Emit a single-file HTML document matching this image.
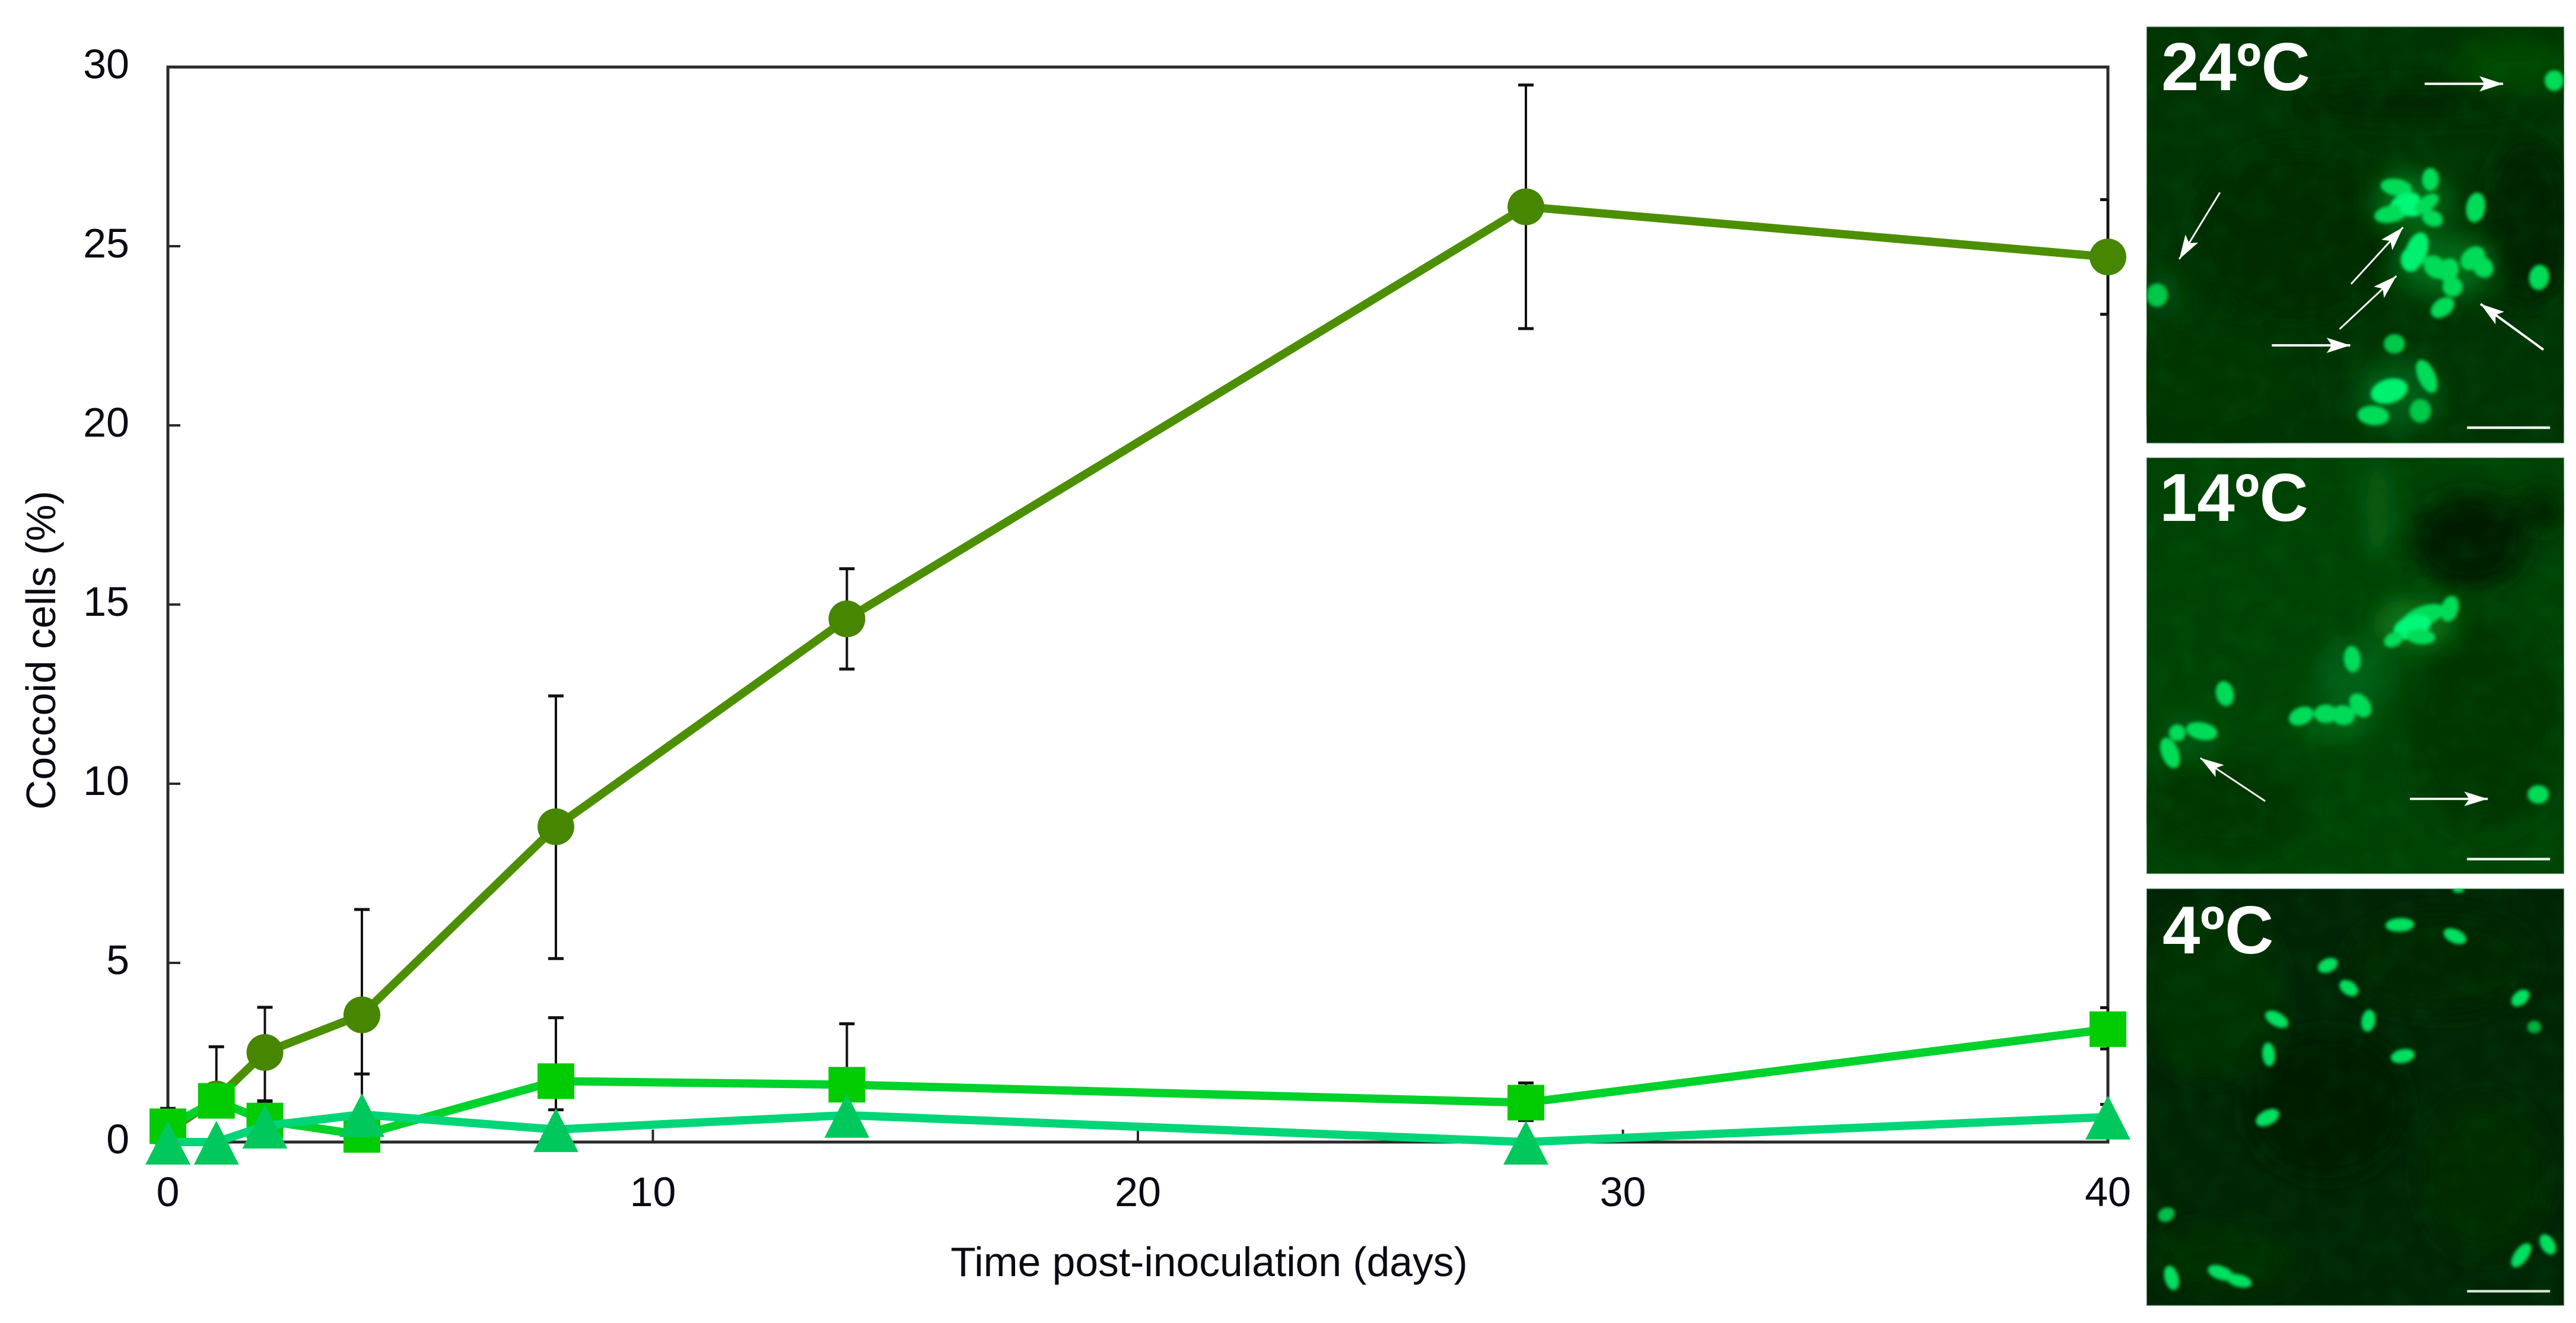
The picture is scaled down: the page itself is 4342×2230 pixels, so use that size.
<!DOCTYPE html>
<html lang="en">
<head>
<meta charset="utf-8">
<title>Coccoid cells over time</title>
<style>
html,body{margin:0;padding:0;background:#fff;}
svg{display:block;}
text{font-family:"Liberation Sans",sans-serif;}
</style>
</head>
<body>
<svg id="figure" xmlns="http://www.w3.org/2000/svg" width="4342" height="2230" viewBox="0 0 4342 2230">
<defs>
  <filter id="soft" x="-20%" y="-20%" width="140%" height="140%"><feGaussianBlur stdDeviation="6"/></filter>
  <filter id="glow" x="-30%" y="-30%" width="160%" height="160%"><feGaussianBlur stdDeviation="42"/></filter>
  <filter id="mottle" x="0" y="0" width="100%" height="100%">
    <feTurbulence type="fractalNoise" baseFrequency="0.012" numOctaves="2" seed="4"/>
    <feColorMatrix type="matrix" values="0 0 0 0 0  0 0 0 0 0.3  0 0 0 0 0.03  1.6 0 0 0 -0.62"/>
  </filter>
  <marker id="arrowhead" markerUnits="userSpaceOnUse" markerWidth="90" markerHeight="60" refX="82" refY="30" orient="auto">
    <path d="M82,30 L0,4 L18,30 L0,56 Z" fill="#fff"/>
  </marker>
  <clipPath id="clip-a"><rect x="78" y="90" width="1449" height="1412"/></clipPath>
  <clipPath id="clip-b"><rect x="78" y="45" width="1449" height="1487"/></clipPath>
  <clipPath id="clip-c"><rect x="78" y="37" width="1449" height="1471"/></clipPath>
</defs>

<g id="chart"></g>

<!-- 24 C micrograph -->
<g transform="translate(3580,0) scale(0.486,0.4975)">
  <g clip-path="url(#clip-a)">
    <rect x="78" y="90" width="1449" height="1412" fill="#003303" stroke="#6f9f8a" stroke-width="4"/>
    <g filter="url(#glow)">
      <ellipse cx="1400" cy="750" rx="150" ry="280" fill="#002002"/>
      <ellipse cx="600" cy="800" rx="350" ry="300" fill="#002a02"/>
      <ellipse cx="1000" cy="350" rx="420" ry="60" fill="#002802"/>
      <ellipse cx="1350" cy="220" rx="200" ry="90" fill="#004806"/>
      <ellipse cx="1000" cy="680" rx="130" ry="100" fill="#066c16"/>
      <ellipse cx="1110" cy="900" rx="170" ry="110" fill="#066816"/>
      <ellipse cx="950" cy="1340" rx="150" ry="120" fill="#055c12"/>
      <ellipse cx="130" cy="1000" rx="70" ry="80" fill="#044e0e"/>
      <ellipse cx="300" cy="1300" rx="300" ry="200" fill="#003604"/>
    </g>
    <rect x="78" y="90" width="1449" height="1412" filter="url(#mottle)" opacity="0.15"/>
    <g filter="url(#soft)" fill="#00dc58" stroke="#00dc58" stroke-width="10">
      <ellipse cx="1063" cy="608" rx="24" ry="34"/>
      <ellipse cx="1220" cy="703" rx="28" ry="46" transform="rotate(10 1220 703)"/>
      <ellipse cx="1440" cy="940" rx="30" ry="38" transform="rotate(10 1440 940)"/>
      <ellipse cx="1492" cy="273" rx="28" ry="30"/>
      <ellipse cx="115" cy="1000" rx="32" ry="35" fill="#00c848" stroke="#00c848"/>
      <ellipse cx="938" cy="1165" rx="32" ry="28" fill="#00c848" stroke="#00c848"/>
      <ellipse cx="1050" cy="1275" rx="25" ry="55" transform="rotate(-25 1050 1275)"/>
      <ellipse cx="1105" cy="1042" rx="40" ry="25" transform="rotate(-35 1105 1042)"/>
      <ellipse cx="1140" cy="972" rx="30" ry="28"/>
      <ellipse cx="865" cy="1408" rx="50" ry="28" transform="rotate(5 865 1408)"/>
      <ellipse cx="1028" cy="1392" rx="32" ry="35" fill="#00c848" stroke="#00c848"/>
      <ellipse cx="920" cy="1325" rx="60" ry="36" transform="rotate(-15 920 1325)" fill="#00f070" stroke="#00f070"/>
      <ellipse cx="945" cy="635" rx="50" ry="24" transform="rotate(10 945 635)"/>
      <ellipse cx="975" cy="685" rx="48" ry="24" transform="rotate(-20 975 685)" fill="#00f878" stroke="#00f878"/>
      <ellipse cx="925" cy="725" rx="52" ry="24" transform="rotate(-10 925 725)"/>
      <ellipse cx="1000" cy="705" rx="38" ry="24" fill="#00f878" stroke="#00f878"/>
      <ellipse cx="1050" cy="690" rx="42" ry="20" transform="rotate(-35 1050 690)"/>
      <ellipse cx="1070" cy="740" rx="32" ry="22" transform="rotate(20 1070 740)"/>
      <ellipse cx="1015" cy="850" rx="32" ry="60" transform="rotate(20 1015 850)" fill="#00f070" stroke="#00f070"/>
      <ellipse cx="995" cy="880" rx="30" ry="36" fill="#00f070" stroke="#00f070"/>
      <ellipse cx="1080" cy="905" rx="40" ry="30" transform="rotate(40 1080 905)"/>
      <ellipse cx="1125" cy="915" rx="30" ry="36" transform="rotate(30 1125 915)"/>
      <ellipse cx="1210" cy="875" rx="42" ry="30" transform="rotate(-40 1210 875)"/>
      <ellipse cx="1245" cy="905" rx="34" ry="28" transform="rotate(45 1245 905)"/>
    </g>
    <g stroke="#fff" stroke-width="8">
      <line x1="1043" y1="284" x2="1315" y2="284" marker-end="url(#arrowhead)"/>
      <line x1="333" y1="652" x2="192" y2="878" stroke-width="6" marker-end="url(#arrowhead)"/>
      <line x1="788" y1="962" x2="968" y2="770" stroke-width="6" marker-end="url(#arrowhead)"/>
      <line x1="748" y1="1115" x2="945" y2="935" stroke-width="6" marker-end="url(#arrowhead)"/>
      <line x1="513" y1="1170" x2="785" y2="1170" marker-end="url(#arrowhead)"/>
      <line x1="1455" y1="1185" x2="1237" y2="1030" marker-end="url(#arrowhead)"/>
    </g>
    <line x1="1190" y1="1449" x2="1478" y2="1449" stroke="#eef6ee" stroke-width="9"/>
  </g>
</g>
<text x="3643" y="152" font-size="114" font-weight="bold" fill="#fff">24ºC</text>

<!-- 14 C micrograph -->
<g transform="translate(3580,750) scale(0.486,0.472)">
  <g clip-path="url(#clip-b)">
    <rect x="78" y="45" width="1449" height="1487" fill="#004205" stroke="#6f9f8a" stroke-width="4"/>
    <g filter="url(#glow)">
      <ellipse cx="1200" cy="340" rx="200" ry="170" fill="#001c00"/>
      <ellipse cx="1450" cy="230" rx="80" ry="70" fill="#002400"/>
      <ellipse cx="1250" cy="1000" rx="260" ry="380" fill="#003604"/>
      <ellipse cx="350" cy="1300" rx="280" ry="170" fill="#003404"/>
      <ellipse cx="880" cy="230" rx="40" ry="190" fill="#0a6212"/>
      <ellipse cx="1000" cy="640" rx="140" ry="90" fill="#087218"/>
      <ellipse cx="800" cy="830" rx="130" ry="130" fill="#065e16"/>
      <ellipse cx="730" cy="1000" rx="130" ry="50" fill="#066816"/>
      <ellipse cx="230" cy="1040" rx="100" ry="90" fill="#05540e"/>
    </g>
    <rect x="78" y="45" width="1449" height="1487" filter="url(#mottle)" opacity="0.15"/>
    <g filter="url(#soft)" fill="#00dc58" stroke="#00dc58" stroke-width="10">
      <ellipse cx="350" cy="888" rx="26" ry="40" transform="rotate(-12 350 888)"/>
      <ellipse cx="792" cy="765" rx="24" ry="42" transform="rotate(-5 792 765)"/>
      <ellipse cx="270" cy="1022" rx="50" ry="26" transform="rotate(12 270 1022)"/>
      <ellipse cx="185" cy="1028" rx="24" ry="25"/>
      <ellipse cx="160" cy="1100" rx="25" ry="52" transform="rotate(-20 160 1100)"/>
      <ellipse cx="615" cy="968" rx="40" ry="26" transform="rotate(-25 615 968)"/>
      <ellipse cx="700" cy="960" rx="36" ry="28"/>
      <ellipse cx="760" cy="965" rx="36" ry="30" transform="rotate(10 760 965)"/>
      <ellipse cx="820" cy="930" rx="28" ry="42" transform="rotate(-35 820 930)"/>
      <ellipse cx="1130" cy="585" rx="25" ry="42" transform="rotate(15 1130 585)"/>
      <ellipse cx="1040" cy="610" rx="70" ry="30" transform="rotate(-20 1040 610)"/>
      <ellipse cx="1000" cy="650" rx="62" ry="36" transform="rotate(-20 1000 650)" fill="#00f878" stroke="#00f878"/>
      <ellipse cx="1030" cy="685" rx="45" ry="22" transform="rotate(5 1030 685)"/>
      <ellipse cx="935" cy="695" rx="30" ry="20" transform="rotate(-30 935 695)"/>
      <ellipse cx="1437" cy="1248" rx="32" ry="28"/>
    </g>
    <g stroke="#fff" stroke-width="8">
      <line x1="490" y1="1272" x2="265" y2="1118" stroke-width="6" marker-end="url(#arrowhead)"/>
      <line x1="992" y1="1264" x2="1262" y2="1264" marker-end="url(#arrowhead)"/>
    </g>
    <line x1="1190" y1="1479" x2="1478" y2="1479" stroke="#eef6ee" stroke-width="9"/>
  </g>
</g>
<text x="3640" y="878" font-size="114" font-weight="bold" fill="#fff">14ºC</text>

<!-- 4 C micrograph -->
<g transform="translate(3580,1480) scale(0.486,0.478)">
  <g clip-path="url(#clip-c)">
    <rect x="78" y="37" width="1449" height="1471" fill="#002505" stroke="#6f9f8a" stroke-width="4"/>
    <g filter="url(#glow)">
      <ellipse cx="300" cy="400" rx="240" ry="300" fill="#003206"/>
      <ellipse cx="1100" cy="300" rx="320" ry="180" fill="#002805"/>
      <ellipse cx="700" cy="800" rx="280" ry="260" fill="#001e04"/>
      <ellipse cx="1250" cy="1050" rx="220" ry="280" fill="#002c05"/>
      <ellipse cx="350" cy="1350" rx="260" ry="120" fill="#002e06"/>
    </g>
    <rect x="78" y="37" width="1449" height="1471" filter="url(#mottle)" opacity="0.12"/>
    <g filter="url(#soft)" fill="#00e060" stroke="#00e060" stroke-width="8">
      <ellipse cx="957" cy="165" rx="46" ry="20" transform="rotate(-3 957 165)"/>
      <ellipse cx="1148" cy="205" rx="38" ry="20" transform="rotate(25 1148 205)"/>
      <ellipse cx="707" cy="308" rx="32" ry="20" transform="rotate(-25 707 308)"/>
      <ellipse cx="780" cy="388" rx="32" ry="20" transform="rotate(35 780 388)"/>
      <ellipse cx="530" cy="498" rx="40" ry="20" transform="rotate(30 530 498)"/>
      <ellipse cx="848" cy="503" rx="20" ry="35" transform="rotate(8 848 503)"/>
      <ellipse cx="1375" cy="423" rx="32" ry="20" transform="rotate(-40 1375 423)"/>
      <ellipse cx="1423" cy="525" rx="20" ry="18" fill="#00b040" stroke="#00b040"/>
      <ellipse cx="502" cy="622" rx="18" ry="38" transform="rotate(-5 502 622)"/>
      <ellipse cx="967" cy="628" rx="38" ry="20" transform="rotate(-12 967 628)"/>
      <ellipse cx="498" cy="845" rx="40" ry="22" transform="rotate(-28 498 845)"/>
      <ellipse cx="147" cy="1187" rx="26" ry="20" transform="rotate(-30 147 1187)" fill="#00c048" stroke="#00c048"/>
      <ellipse cx="165" cy="1410" rx="20" ry="40" transform="rotate(-15 165 1410)"/>
      <ellipse cx="335" cy="1392" rx="42" ry="20" transform="rotate(20 335 1392)"/>
      <ellipse cx="400" cy="1420" rx="40" ry="18" transform="rotate(15 400 1420)"/>
      <ellipse cx="1378" cy="1330" rx="20" ry="45" transform="rotate(35 1378 1330)"/>
      <ellipse cx="1470" cy="1292" rx="20" ry="35" transform="rotate(-30 1470 1292)"/>
      <ellipse cx="1160" cy="40" rx="16" ry="8"/>
    </g>
    <line x1="1190" y1="1457" x2="1478" y2="1457" stroke="#d8e8d8" stroke-width="9"/>
  </g>
</g>
<text x="3645" y="1607" font-size="114" font-weight="bold" fill="#fff">4ºC</text>
</svg>

<script>
const days = [0, 1, 2, 4, 8, 14, 28, 40];
const xTickLabels = [0, 10, 20, 30, 40];
const yTickLabels = [0, 5, 10, 15, 20, 25, 30];

const temp24Values = [0.3, 1.2, 2.5, 3.55, 8.8, 14.6, 26.1, 24.7];
const temp24Upper = [0.94, 2.66, 3.76, 6.49, 12.45, 16.0, 29.5, 26.3];
const temp24Lower = [null, null, 1.15, 0.6, 5.12, 13.2, 22.7, 23.1];

const temp14Values = [0.44, 1.15, 0.6, 0.2, 1.7, 1.6, 1.1, 3.15];
const temp14Upper = [null, null, 1.1, 1.9, 3.47, 3.3, 1.65, 3.75];
const temp14Lower = [null, null, null, null, 0.9, null, 0.6, 2.6];

const temp4Values = [0, 0, 0.45, 0.77, 0.35, 0.75, 0, 0.7];
const temp4Upper = [null, null, null, null, null, null, null, 1.05];
const temp4Lower = [null, null, null, null, null, null, null, 0.35];

const xDomainMax = 40;
const yDomainMax = 30;

const plotLeft = 283;
const plotRight = 3553;
const plotTop = 113;
const plotBottom = 1925;

function xScale(day) {
  return plotLeft + (day / xDomainMax) * (plotRight - plotLeft);
}
function yScale(value) {
  return plotBottom - (value / yDomainMax) * (plotBottom - plotTop);
}

const NS = 'http://www.w3.org/2000/svg';
const chart = document.getElementById('chart');

function make(tag, attrs, parent) {
  const node = document.createElementNS(NS, tag);
  Object.keys(attrs).forEach(function (k) { node.setAttribute(k, attrs[k]); });
  (parent || chart).appendChild(node);
  return node;
}

const frame = make('rect', {
  x: plotLeft, y: plotTop, width: plotRight - plotLeft, height: plotBottom - plotTop,
  fill: 'none', stroke: '#2a2a2a', 'stroke-width': 5
});



yTickLabels.forEach(function (v) {
  if (v !== 0 && v !== yDomainMax) {
    const tick = make('line', { x1: plotLeft, x2: plotLeft + 21, y1: yScale(v), y2: yScale(v), stroke: '#2a2a2a', 'stroke-width': 4 });
    
    
  }
  const label = make('text', { x: 218, y: yScale(v) + 19, 'font-size': 70, 'text-anchor': 'end', fill: '#0a0a14' });
  label.textContent = v;
  
  
});

xTickLabels.forEach(function (v) {
  if (v !== 0 && v !== xDomainMax) {
    const tick = make('line', { x1: xScale(v), x2: xScale(v), y1: plotBottom, y2: plotBottom - 21, stroke: '#2a2a2a', 'stroke-width': 4 });
    
    
  }
  const label = make('text', { x: xScale(v), y: 2033, 'font-size': 70, 'text-anchor': 'middle', fill: '#0a0a14' });
  label.textContent = v;
  
  
});

const xTitle = make('text', { x: 2038, y: 2151, 'font-size': 69.6, 'text-anchor': 'middle', fill: '#0a0a14' });
xTitle.textContent = 'Time post-inoculation (days)';



const yTitle = make('text', { x: 0, y: 0, 'font-size': 69.6, 'text-anchor': 'middle', fill: '#0a0a14', transform: 'translate(93,1096) rotate(-90)' });
yTitle.textContent = 'Coccoid cells (%)';



function drawErrorBars(values, upper, lower, name) {
  const capHalf = 13;
  days.forEach(function (d, i) {
    const x = xScale(d);
    const hi = upper[i];
    const lo = lower[i];
    if (hi === null && lo === null) { return; }
    const top = hi === null ? yScale(values[i]) : yScale(hi);
    const bottom = lo === null ? yScale(values[i]) : yScale(lo);
    const stem = make('line', { x1: x, x2: x, y1: top, y2: bottom, stroke: '#111', 'stroke-width': 4 });
    
    
    const capEnds = [];
    if (hi !== null) { capEnds.push(top); }
    if (lo !== null) { capEnds.push(bottom); }
    capEnds.forEach(function (y) {
      const cap = make('line', { x1: x - capHalf, x2: Math.min(x + capHalf, plotRight), y1: y, y2: y, stroke: '#111', 'stroke-width': 5 });
      
      
    });
  });
}

function drawLine(values, color, name) {
  const pts = days.map(function (d, i) { return xScale(d) + ',' + yScale(values[i]); }).join(' ');
  const line = make('polyline', { points: pts, fill: 'none', stroke: color, 'stroke-width': 14, 'stroke-linejoin': 'round' });
  
  
}

function drawCircles(values, color, name) {
  days.forEach(function (d, i) {
    const m = make('ellipse', { cx: xScale(d), cy: yScale(values[i]), rx: 31, ry: 31, fill: color });
    
    
  });
}

function drawSquares(values, color, name) {
  days.forEach(function (d, i) {
    const m = make('rect', { x: xScale(d) - 31, y: yScale(values[i]) - 30, width: 62, height: 60, fill: color });
    
    
  });
}

function drawTriangles(values, color, name) {
  days.forEach(function (d, i) {
    const x = xScale(d);
    const y = yScale(values[i]);
    const m = make('polygon', { points: (x - 38) + ',' + (y + 38) + ' ' + (x + 38) + ',' + (y + 38) + ' ' + x + ',' + (y - 36), fill: color });
    
    
  });
}

drawErrorBars(temp24Values, temp24Upper, temp24Lower, 'series-24c');
drawErrorBars(temp14Values, temp14Upper, temp14Lower, 'series-14c');
drawErrorBars(temp4Values, temp4Upper, temp4Lower, 'series-4c');

drawLine(temp24Values, '#4c8f00', 'series-24c');
drawCircles(temp24Values, '#468600', 'series-24c');
drawLine(temp14Values, '#00d22c', 'series-14c');
drawSquares(temp14Values, '#00cc00', 'series-14c');
drawLine(temp4Values, '#00d678', 'series-4c');
drawTriangles(temp4Values, '#00c85c', 'series-4c');
</script>
</body>
</html>
